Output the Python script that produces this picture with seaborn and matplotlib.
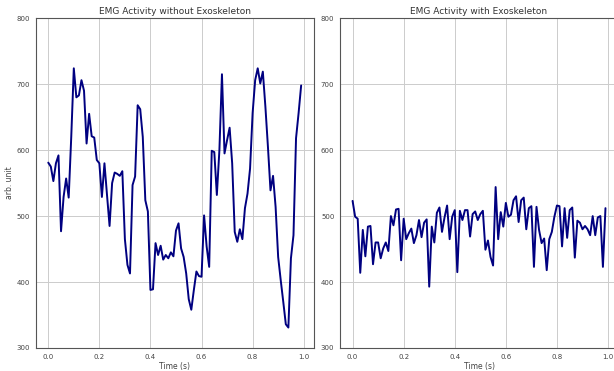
import matplotlib
matplotlib.use("Agg")
import matplotlib.pyplot as plt
import seaborn as sns
import numpy as np
import pandas as pd

# time axis: 100 samples, 0.00 .. 0.99 s
time = np.arange(100) / 100

# EMG without exoskeleton
emg_without = [581, 575, 553, 580, 592, 477, 529, 557, 528, 620,
               724, 680, 683, 706, 690, 610, 655, 621, 619, 585,
               580, 529, 580, 532, 485, 550, 566, 564, 561, 568,
               465, 426, 413, 547, 560, 668, 662, 620, 524, 507,
               388, 389, 459, 441, 455, 434, 441, 436, 445, 439,
               478, 489, 451, 438, 413, 374, 358, 388, 416, 409,
               408, 501, 454, 423, 599, 597, 532, 600, 715, 595,
               615, 634, 580, 476, 461, 480, 465, 512, 534, 572,
               656, 706, 724, 701, 719, 666, 605, 539, 561, 514,
               438, 403, 370, 336, 331, 436, 471, 618, 656, 698]

# EMG with exoskeleton
emg_with = [523, 499, 496, 414, 479, 439, 484, 485, 427, 460,
            460, 436, 451, 460, 447, 500, 486, 510, 511, 433,
            496, 465, 474, 481, 459, 471, 494, 468, 490, 495,
            393, 484, 460, 505, 513, 476, 498, 516, 465, 499,
            509, 415, 508, 494, 509, 509, 469, 503, 507, 494,
            503, 508, 449, 463, 438, 425, 544, 465, 506, 484,
            520, 499, 502, 524, 530, 491, 524, 528, 480, 512,
            515, 423, 514, 479, 459, 466, 418, 465, 476, 499,
            516, 515, 454, 512, 467, 509, 513, 437, 493, 490,
            480, 485, 480, 471, 500, 471, 498, 500, 423, 512]

df = pd.DataFrame({"time": time, "without": emg_without, "with": emg_with})

sns.set_style("whitegrid")
plt.rcParams["font.family"] = ["DejaVu Sans"]

fig, axes = plt.subplots(1, 2, figsize=(6.14, 3.71), dpi=100)
# right panel runs a little past the figure edge, like the original
fig.subplots_adjust(left=0.058, right=1.0067, bottom=0.062, top=0.951, wspace=0.094)

panels = [("without", "EMG Activity without Exoskeleton"),
          ("with", "EMG Activity with Exoskeleton")]

for ax, (col, title) in zip(axes, panels):
    sns.lineplot(data=df, x="time", y=col, ax=ax, color="navy", linewidth=1.4)
    ax.set_ylim(300, 800)
    ax.set_yticks([300, 400, 500, 600, 700, 800])
    ax.set_xticks([0.0, 0.2, 0.4, 0.6, 0.8, 1.0])
    ax.set_title(title, fontsize=6.5, color="#333333", pad=3)
    ax.set_xlabel("Time (s)", fontsize=5.5, color="#444444", labelpad=2)
    ax.set_ylabel("")
    ax.tick_params(labelsize=5, colors="#444444", length=2, pad=2)
    ax.grid(True, color="#cccccc", linewidth=0.7)
    for s in ax.spines.values():
        s.set_color("#555555")
        s.set_linewidth(0.8)

axes[0].set_ylabel("arb. unit", fontsize=5.5, color="#444444", labelpad=2)

fig.savefig("out.png", dpi=100)
